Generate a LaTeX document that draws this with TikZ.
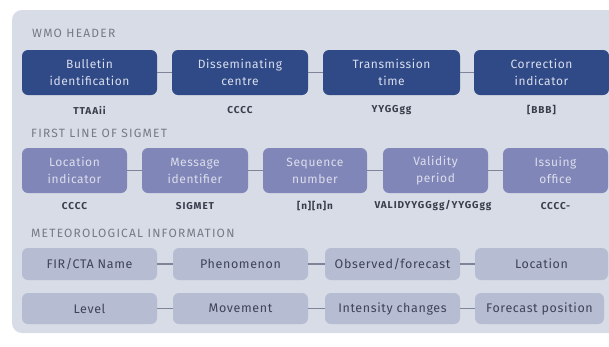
\documentclass[tikz,border=0pt]{standalone}
\usepackage{fontspec}
\setmainfont{Fira Sans}
\newfontfamily\boxfont[LetterSpace=5]{Fira Sans}
\newfontfamily\secfont[LetterSpace=10]{Fira Sans}
\newfontfamily\codefont[LetterSpace=9]{Fira Sans}
\definecolor{panel}{HTML}{D8DCE6}
\definecolor{darkb}{HTML}{2F4A86}
\definecolor{darkt}{HTML}{D9DEEE}
\definecolor{midb}{HTML}{8087B8}
\definecolor{midt}{HTML}{DCDDEC}
\definecolor{lightb}{HTML}{B6BCD2}
\definecolor{lightt}{HTML}{3F4258}
\definecolor{seclbl}{HTML}{767A86}
\definecolor{conn}{HTML}{7E8499}
\definecolor{codet}{HTML}{3A3D4C}
\tikzset{
  x=1pt,y=-1pt,
  boxbase/.style={rounded corners=6pt,inner sep=0pt,align=center,font=\boxfont\fontsize{12}{17}\selectfont},
  darkbox/.style={boxbase,fill=darkb,text=darkt},
  midbox/.style={boxbase,fill=midb,text=midt},
  lightbox/.style={boxbase,fill=lightb,text=lightt,font=\boxfont\fontsize{12.5}{14}\selectfont},
  seclabel/.style={anchor=west,text=seclbl,inner sep=0pt,font=\secfont\fontsize{12}{13}\selectfont},
  codelabel/.style={text=codet,inner sep=0pt,font=\codefont\bfseries\fontsize{10}{11}\selectfont},
  link/.style={draw=conn,line width=1.2pt}
}
\newcommand{\bx}[7]{\node[#1,minimum width=#4-#3,minimum height=#6-#5] (#2) at ({(#3+#4)/2},{(#5+#6)/2}) {#7};}
\begin{document}
\begin{tikzpicture}
\useasboundingbox (0,0) rectangle (609,346);
\fill[white] (0,0) rectangle (609,346);
\fill[panel,rounded corners=10pt] (12,10) rectangle (640,333);
% WMO header
\node[seclabel] (s1) at (32,33) {WMO HEADER};
\bx{darkbox}{a1}{22}{157}{50}{95}{Bulletin\\identification}
\bx{darkbox}{a2}{172}{308}{50}{95}{Disseminating\\centre}
\bx{darkbox}{a3}{323}{460}{50}{95}{Transmission\\time}
\bx{darkbox}{a4}{474}{609}{50}{95}{Correction\\indicator}
\draw[link] (a1) -- (a2);
\draw[link] (a2) -- (a3);
\draw[link] (a3) -- (a4);
\node[codelabel] (c1) at (89.5,110) {TTAAii};
\node[codelabel] (c2) at (240,110) {CCCC};
\node[codelabel] (c3) at (391.5,110) {YYGGgg};
\node[codelabel] (c4) at (541.5,110) {[BBB]};
% First line of SIGMET
\node[seclabel] (s2) at (31,133) {FIRST LINE OF SIGMET};
\bx{midbox}{b1}{22}{127}{148}{193}{Location\\indicator}
\bx{midbox}{b2}{142}{248}{148}{193}{Message\\identifier}
\bx{midbox}{b3}{263}{367}{148}{193}{Sequence\\number}
\bx{midbox}{b4}{383}{488}{148}{193}{Validity\\period}
\bx{midbox}{b5}{503}{608}{148}{193}{Issuing\\office}
\draw[link] (b1) -- (b2);
\draw[link] (b2) -- (b3);
\draw[link] (b3) -- (b4);
\draw[link] (b4) -- (b5);
\node[codelabel] (d1) at (74.5,206) {CCCC};
\node[codelabel] (d2) at (195,206) {SIGMET};
\node[codelabel] (d3) at (315,206) {[n][n]n};
\node[codelabel] (d4) at (433,206) {VALIDYYGGgg/YYGGgg};
\node[codelabel] (d5) at (555.5,206) {CCCC-};
% Meteorological information
\node[seclabel] (s3) at (31,233) {METEOROLOGICAL INFORMATION};
\bx{lightbox}{e1}{22}{157}{248}{280}{FIR/CTA Name}
\bx{lightbox}{e2}{173}{308}{248}{280}{Phenomenon}
\bx{lightbox}{e3}{325}{460}{248}{280}{Observed/forecast}
\bx{lightbox}{e4}{475}{608}{248}{280}{Location}
\draw[link] (e1) -- (e2);
\draw[link] (e2) -- (e3);
\draw[link] (e3) -- (e4);
\bx{lightbox}{f1}{22}{157}{293}{324}{Level}
\bx{lightbox}{f2}{173}{308}{293}{324}{Movement}
\bx{lightbox}{f3}{325}{460}{293}{324}{Intensity changes}
\bx{lightbox}{f4}{475}{604}{293}{324}{Forecast position}
\draw[link] (f1) -- (f2);
\draw[link] (f2) -- (f3);
\draw[link] (f3) -- (f4);
\end{tikzpicture}
\end{document}
